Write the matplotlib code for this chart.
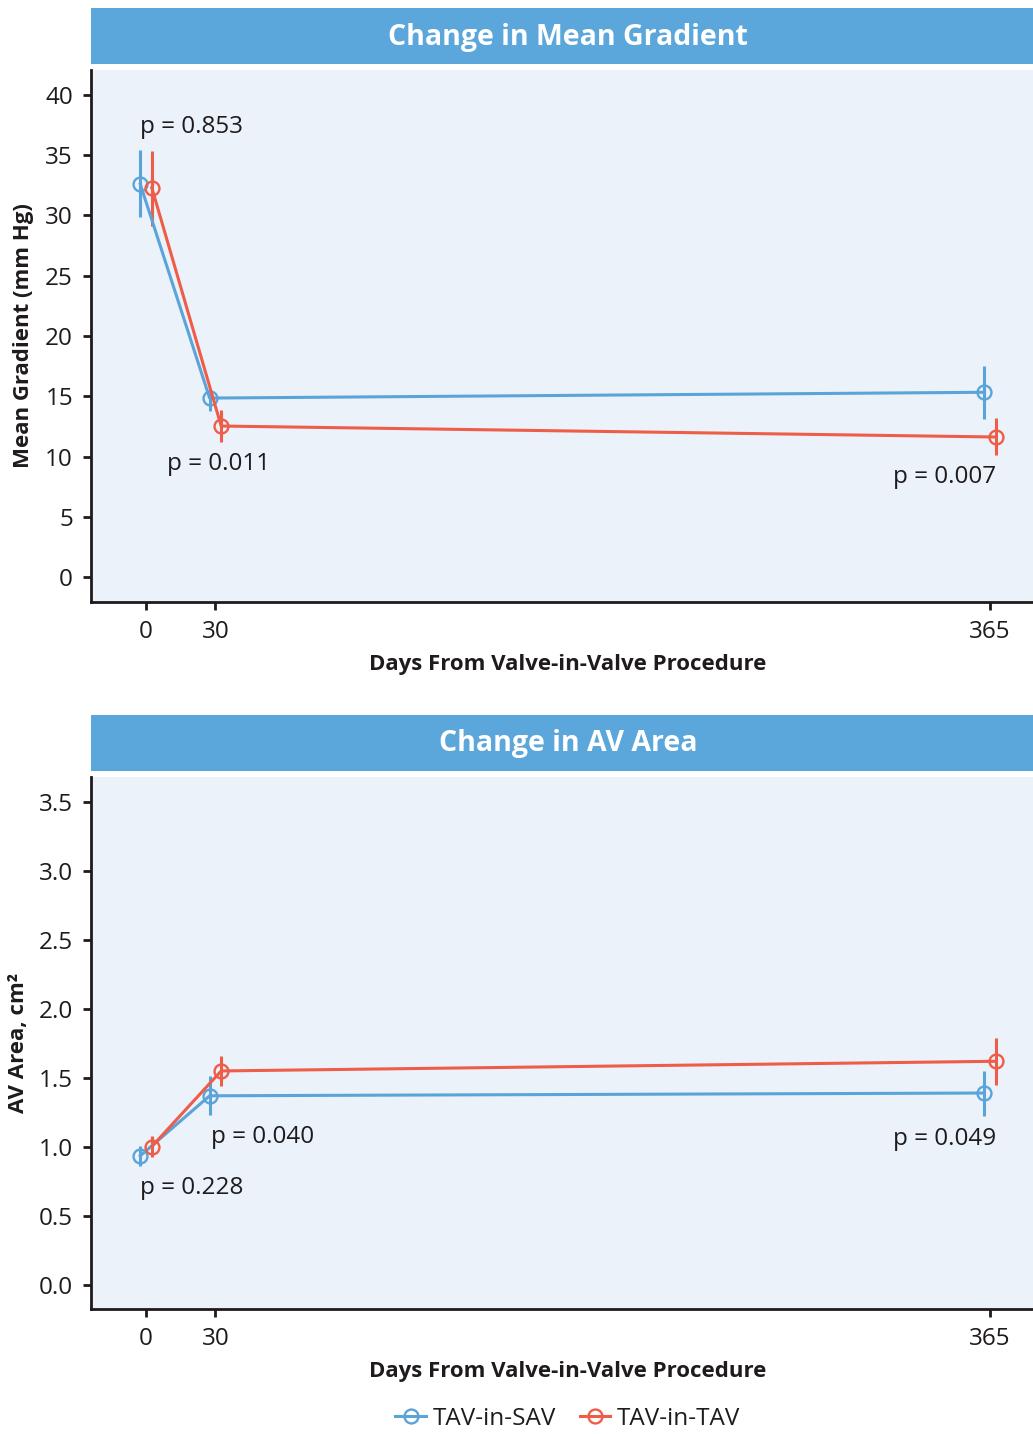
import matplotlib
matplotlib.use("Agg")
import matplotlib.pyplot as plt
from matplotlib.patches import Rectangle
from matplotlib.lines import Line2D

plt.rcParams['font.family'] = ['Open Sans', 'DejaVu Sans']

# ---------------- data ----------------
days = [0, 30, 365]
series = ["TAV-in-SAV", "TAV-in-TAV"]

grad_sav = [32.6, 14.85, 15.33]
grad_sav_lo = [29.9, 13.8, 13.1]
grad_sav_hi = [35.4, 15.3, 17.5]
grad_tav = [32.3, 12.53, 11.62]
grad_tav_lo = [29.1, 11.2, 10.1]
grad_tav_hi = [35.35, 13.9, 13.2]
grad_p = ["p = 0.853", "p = 0.011", "p = 0.007"]

area_sav = [0.935, 1.37, 1.39]
area_sav_lo = [0.862, 1.23, 1.225]
area_sav_hi = [1.007, 1.51, 1.546]
area_tav = [1.002, 1.55, 1.62]
area_tav_lo = [0.93, 1.444, 1.45]
area_tav_hi = [1.08, 1.66, 1.79]
area_p = ["p = 0.228", "p = 0.040", "p = 0.049"]

grad_ticks = [0, 5, 10, 15, 20, 25, 30, 35, 40]
area_ticks = [0.0, 0.5, 1.0, 1.5, 2.0, 2.5, 3.0, 3.5]

# ---------------- style ----------------
BLUE = "#5AA4DA"
RED = "#EE5D47"
BG = "#EBF2FA"
BAR = "#5BA6DA"
TXT = "#1F1B1C"
DODGE = 2.5
PFS = 17.5

W, H = 1033, 1434
fig = plt.figure(figsize=(W / 100, H / 100), dpi=100)


def px_axes(x0, y0, x1, y1):
    return fig.add_axes([x0 / W, 1 - y1 / H, (x1 - x0) / W, (y1 - y0) / H])


def title_bar(y0, y1, text):
    fig.patches.append(Rectangle((91 / W, 1 - y1 / H), (W - 91) / W, (y1 - y0) / H,
                                 transform=fig.transFigure, facecolor=BAR,
                                 edgecolor='none', zorder=0))
    fig.text(568 / W, 1 - ((y0 + y1) / 2 + 1) / H, text, color='white',
             fontsize=20.5, fontweight='bold', ha='center', va='center')


def draw_panel(ax, s_vals, s_lo, s_hi, t_vals, t_lo, t_hi, ylim, yticks, fmt, ylabel):
    ax.set_facecolor(BG)
    for vals, lo, hi, col, off, lab in [(s_vals, s_lo, s_hi, BLUE, -DODGE, series[0]),
                                        (t_vals, t_lo, t_hi, RED, DODGE, series[1])]:
        xs = [d + off for d in days]
        err = [[v - l for v, l in zip(vals, lo)], [h - v for v, h in zip(vals, hi)]]
        ax.errorbar(xs, vals, yerr=err, color=col, lw=2.2, elinewidth=2.2, capsize=0,
                    marker='o', ms=10, mfc='none', mec=col, mew=1.7, label=lab, zorder=3)
    ax.set_xlim(-23.8, 383.6)
    ax.set_ylim(*ylim)
    ax.set_xticks(days)
    ax.set_xticklabels([str(d) for d in days])
    ax.set_yticks(yticks)
    ax.set_yticklabels([fmt.format(t) for t in yticks])
    for s in ['top', 'right']:
        ax.spines[s].set_visible(False)
    for s in ['left', 'bottom']:
        ax.spines[s].set_linewidth(2.0)
        ax.spines[s].set_color(TXT)
    ax.tick_params(direction='out', length=6, width=2, colors=TXT, labelsize=17.5, pad=7)
    ax.set_xlabel("Days From Valve-in-Valve Procedure", fontsize=16, fontweight='bold',
                  color=TXT)
    ax.xaxis.set_label_coords((568 - 91) / (W - 91), -0.097)
    ax.set_ylabel(ylabel, fontsize=16, fontweight='bold', color=TXT)


# top panel
title_bar(8, 64, "Change in Mean Gradient")
ax1 = px_axes(91, 70, W, 602)
draw_panel(ax1, grad_sav, grad_sav_lo, grad_sav_hi, grad_tav, grad_tav_lo, grad_tav_hi,
           (-2.07, 42.07), grad_ticks, "{:g}", "Mean Gradient (mm Hg)")
ax1.yaxis.set_label_coords(-0.06, 0.5)
ax1.text(-2.6, 37.3, grad_p[0], fontsize=PFS, color=TXT, ha='left', va='center')
ax1.text(9, 9.4, grad_p[1], fontsize=PFS, color=TXT, ha='left', va='center')
ax1.text(367.6, 8.3, grad_p[2], fontsize=PFS, color=TXT, ha='right', va='center')

# bottom panel
title_bar(715, 771, "Change in AV Area")
ax2 = px_axes(91, 777, W, 1309)
draw_panel(ax2, area_sav, area_sav_lo, area_sav_hi, area_tav, area_tav_lo, area_tav_hi,
           (-0.175, 3.68), area_ticks, "{:.1f}", "AV Area, cm²")
ax2.yaxis.set_label_coords(-0.066, 0.5)
ax2.text(-2.6, 0.70, area_p[0], fontsize=PFS, color=TXT, ha='left', va='center')
ax2.text(28, 1.07, area_p[1], fontsize=PFS, color=TXT, ha='left', va='center')
ax2.text(367.6, 1.06, area_p[2], fontsize=PFS, color=TXT, ha='right', va='center')

leg_handles = [Line2D([], [], color=c, lw=2.2, marker='o', ms=10, mfc='none', mec=c, mew=1.7)
               for c in (BLUE, RED)]
fig.legend(leg_handles, series, loc='center', bbox_to_anchor=(568 / W, 1 - 1419 / H),
           ncol=2, frameon=False, fontsize=17.5, handlelength=1.25, handletextpad=0.3,
           columnspacing=0.95, labelcolor=TXT)

fig.savefig("out.png", dpi=100)
